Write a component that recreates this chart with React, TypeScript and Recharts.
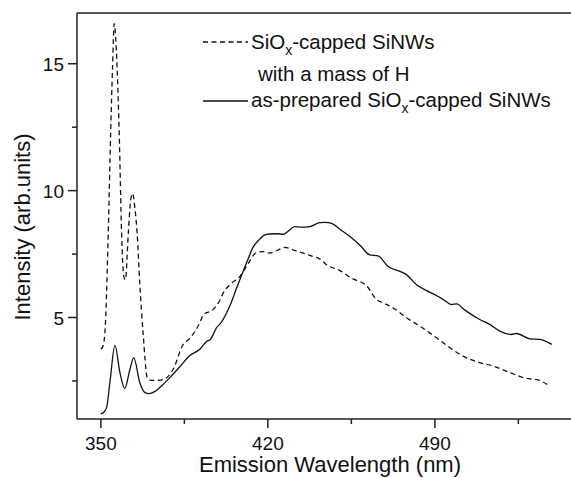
import React from "react";
import { LineChart, Line, XAxis, YAxis, ReferenceLine } from "recharts";

// Dashed series: SiOx-capped SiNWs with a mass of H
const hWavelength = [
  350, 350.8, 351.7, 353.1, 354.1, 354.9, 355.6, 356.8, 357.7, 358.7, 359.6, 360.3,
  361.5, 362.5, 363.3, 364.2, 365.2, 366.3, 367.7, 369.4, 370.5, 373, 376, 380.3,
  384.5, 387.3, 391.5, 393, 397, 400, 401.3, 404, 408.3, 411, 415.3, 418, 420.8,
  424, 427, 431, 434.8, 439, 441.8, 444.6, 450.2, 455.7, 459, 461.4, 465.5, 469,
  472.5, 478.1, 483.7, 490.7, 496.3, 501.8, 508.8, 514.4, 521.4, 528.4, 533.3, 537.9,
];
const hIntensity = [
  3.75, 3.85, 4.41, 8.32, 12.24, 14.86, 16.58, 14.86, 12.24, 8.32, 6.62, 6.49,
  8.32, 9.63, 9.89, 9.37, 8.32, 6.36, 4.4, 2.64, 2.53, 2.52, 2.55, 2.96,
  3.94, 4.18, 4.8, 5.12, 5.31, 5.7, 5.97, 6.29, 6.62, 7.01, 7.56, 7.6, 7.54,
  7.65, 7.76, 7.65, 7.54, 7.4, 7.31, 7.08, 6.85, 6.52, 6.4, 6.25, 5.71, 5.55,
  5.38, 4.99, 4.66, 4.2, 3.81, 3.48, 3.22, 3.09, 2.83, 2.6, 2.54, 2.31,
];

// Solid series: as-prepared SiOx-capped SiNWs
const prepWavelength = [
  350, 351, 352.4, 353.8, 355.9, 358, 360, 362.2, 363.8, 366.3, 368.4, 370.2, 372.5,
  374.7, 379, 383, 387.3, 391.5, 394.3, 396, 398.5, 400, 402.7, 404, 406.9, 411,
  414, 416.6, 418.5, 420.8, 424, 426.4, 428.5, 431.3, 434, 437.6, 441.8, 444,
  446.7, 450.2, 454.4, 458.5, 462.7, 466.2, 470.4, 475.3, 478.1, 482.3, 486.5,
  490, 493.5, 497, 499.1, 502.6, 508.8, 513, 517.2, 522.1, 524.2, 529.8, 534, 539,
];
const prepIntensity = [
  1.2, 1.25, 1.45, 2.45, 3.9, 2.83, 2.2, 2.96, 3.42, 2.44, 2.05, 2.0, 2.08,
  2.24, 2.64, 3.05, 3.5, 3.75, 4.05, 4.15, 4.6, 4.75, 5.18, 5.44, 6.16, 7.14,
  7.8, 8.09, 8.25, 8.29, 8.3, 8.28, 8.4, 8.58, 8.56, 8.58, 8.74, 8.75,
  8.71, 8.48, 8.19, 7.86, 7.47, 7.43, 7.01, 6.82, 6.69, 6.29, 6.06,
  5.9, 5.71, 5.51, 5.54, 5.29, 4.92, 4.73, 4.46, 4.33, 4.37, 4.16, 4.14, 3.94,
];

const xTicks = [350, 385, 420, 455, 490, 525];
const yTicks = [2.5, 5, 7.5, 10, 12.5, 15];

const hData = hWavelength.map((nm, i) => ({ nm, v: hIntensity[i] }));
const prepData = prepWavelength.map((nm, i) => ({ nm, v: prepIntensity[i] }));

const FONT = "'Liberation Sans', Arial, Helvetica, sans-serif";
const AXIS = "#222";
const INK = "#111";

const XTick = (props: any) => {
  const { x, y, payload } = props;
  const major = payload.value % 70 === 0;
  return (
    <g>
      <line x1={x} y1={y} x2={x} y2={y + (major ? 9 : 5)} stroke={AXIS} strokeWidth={1.5} />
      {major && (
        <text x={x} y={y + 31} textAnchor="middle" fontSize={19} fontFamily={FONT} fill={INK}>
          {payload.value}
        </text>
      )}
    </g>
  );
};

const YTick = (props: any) => {
  const { x, y, payload } = props;
  const major = payload.value % 5 === 0;
  return (
    <g>
      <line x1={x} y1={y} x2={x - (major ? 9 : 5)} y2={y} stroke={AXIS} strokeWidth={1.5} />
      {major && (
        <text x={x - 13} y={y + 7} textAnchor="end" fontSize={19} fontFamily={FONT} fill={INK}>
          {payload.value}
        </text>
      )}
    </g>
  );
};

export default function App() {
  return (
    <div style={{ position: "absolute", left: 0, top: 0, width: 571, height: 478, overflow: "hidden", background: "#fff" }}>
      <LineChart width={600} height={478} margin={{ top: 13, right: 22, bottom: 0, left: 0 }}>
        <XAxis
          type="number"
          dataKey="nm"
          domain={[340, 550]}
          ticks={xTicks}
          interval={0}
          tickSize={0}
          tickMargin={0}
          tickLine={false}
          tick={(p: any) => <XTick {...p} />}
          height={59}
          axisLine={{ stroke: AXIS, strokeWidth: 1.5 }}
          allowDataOverflow
        />
        <YAxis
          type="number"
          domain={[1, 17]}
          ticks={yTicks}
          interval={0}
          tickSize={0}
          tickMargin={0}
          tickLine={false}
          tick={(p: any) => <YTick {...p} />}
          width={77}
          axisLine={{ stroke: AXIS, strokeWidth: 1.5 }}
          allowDataOverflow
        />
        <ReferenceLine y={17} stroke={AXIS} strokeWidth={1.5} />
        <Line
          data={hData}
          dataKey="v"
          type="monotone"
          dot={false}
          stroke={INK}
          strokeWidth={1.3}
          strokeDasharray="5 3.5"
          isAnimationActive={false}
        />
        <Line
          data={prepData}
          dataKey="v"
          type="monotone"
          dot={false}
          stroke={INK}
          strokeWidth={1.3}
          isAnimationActive={false}
        />
      </LineChart>
      <svg
        width={571}
        height={478}
        style={{ position: "absolute", left: 0, top: 0, pointerEvents: "none" }}
        fontFamily={FONT}
      >
        <text x={330} y={472} textAnchor="middle" fontSize={22} fill={INK}>
          Emission Wavelength (nm)
        </text>
        <text x={30} y={227} textAnchor="middle" fontSize={22} fill={INK} transform="rotate(-90 30 227)">
          Intensity (arb.units)
        </text>
        <line x1={203} y1={42} x2={248} y2={42} stroke={INK} strokeWidth={1.3} strokeDasharray="5 3.5" />
        <text x={251} y={49} fontSize={20.5} fill={INK}>
          SiO
          <tspan fontSize={14} dy={6}>x</tspan>
          <tspan dy={-6}>-capped SiNWs</tspan>
        </text>
        <text x={258} y={81} fontSize={20.5} fill={INK}>
          with a mass of H
        </text>
        <line x1={203} y1={101} x2={248} y2={101} stroke={INK} strokeWidth={1.3} />
        <text x={251} y={107} fontSize={20.5} fill={INK}>
          as-prepared SiO
          <tspan fontSize={14} dy={6}>x</tspan>
          <tspan dy={-6}>-capped SiNWs</tspan>
        </text>
      </svg>
    </div>
  );
}
